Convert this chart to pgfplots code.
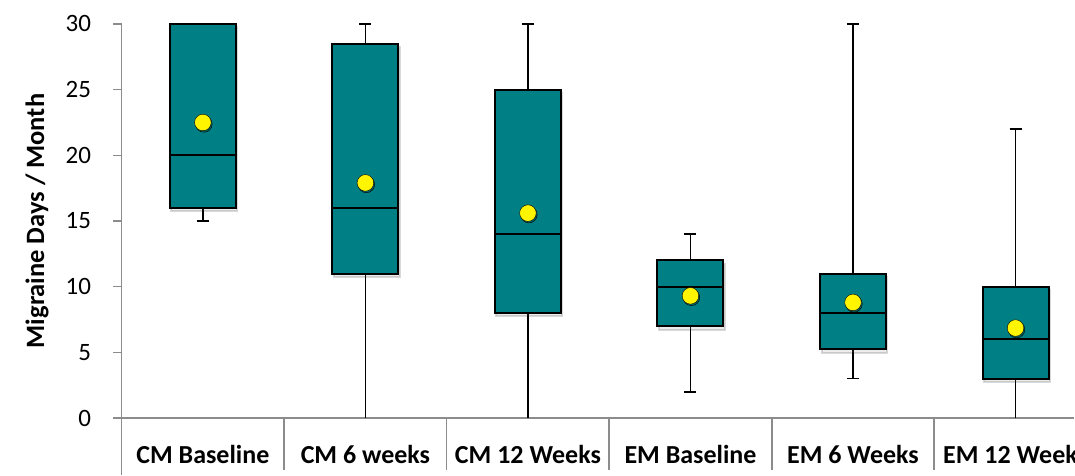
\documentclass[border=0pt]{standalone}
\usepackage{fontspec}
\setmainfont{Carlito}
\usepackage{pgfplots}
\pgfplotsset{compat=1.18}
\usepgfplotslibrary{statistics}
\usetikzlibrary{shadows}

\definecolor{boxteal}{RGB}{0,128,132}
\definecolor{axisgray}{RGB}{140,140,140}
\definecolor{meanyellow}{RGB}{255,245,0}

\pgfplotsset{
  mybox/.style={
    draw=black, fill=boxteal, line width=2pt,
    boxplot/every box/.style={drop shadow={shadow xshift=1.5pt, shadow yshift=-3.5pt, opacity=0.15}},
    boxplot/every whisker/.style={line width=1.8pt},
    boxplot/every median/.style={line width=2pt},
  },
}

\begin{document}
\begin{tikzpicture}
\begin{axis}[
  anchor=south west, at={(0pt,0pt)},
  scale only axis,
  width=953.3pt, height=394.3pt,
  xmin=-0.5, xmax=5.361, ymin=0, ymax=30,
  boxplot/draw direction=y,
  clip=false,
  axis x line*=bottom, axis y line*=left,
  axis line style={axisgray, line width=1.6pt},
  tick align=outside,
  major tick length=8.4pt,
  ytick={0,5,...,30},
  ytick style={axisgray, line width=1.4pt},
  yticklabel style={anchor=east, inner sep=0pt, xshift=-22pt, font=\fontsize{25}{30}\selectfont},
  /pgf/number format/assume math mode=true,
  xtick={0,1,2,3,4,5},
  xticklabels={CM Baseline, CM 6 weeks, CM 12 Weeks, EM Baseline, EM 6 Weeks, EM 12 Weeks},
  xtick style={draw=none},
  xticklabel style={overlay, anchor=base, yshift=-37pt, font=\bfseries\fontsize{26}{30}\selectfont},
  ylabel={Migraine Days / Month},
  every axis y label/.style={at={(axis description cs:0,0.5)}, xshift=-84.7pt, rotate=90, anchor=center,
    font=\bfseries\fontsize{26.5}{30}\selectfont},
]

% category separators below the axis
\addplot[axisgray, line width=1.6pt] coordinates {(-0.5,0) (-0.5,-4.32)};
\addplot[axisgray, line width=1.6pt] coordinates {(0.5,0) (0.5,-3.97)};
\addplot[axisgray, line width=1.6pt] coordinates {(1.5,0) (1.5,-3.97)};
\addplot[axisgray, line width=1.6pt] coordinates {(2.5,0) (2.5,-3.97)};
\addplot[axisgray, line width=1.6pt] coordinates {(3.5,0) (3.5,-3.97)};
\addplot[axisgray, line width=1.6pt] coordinates {(4.5,0) (4.5,-3.97)};

% lower whiskers that reach zero (no end cap)
\addplot[black, line width=1.8pt] coordinates {(1,0) (1,11)};
\addplot[black, line width=1.8pt] coordinates {(2,0) (2,8)};
\addplot[black, line width=1.8pt] coordinates {(5,0) (5,3)};

% boxes: whiskers, quartiles and medians
\addplot[mybox, boxplot prepared={draw position=0, box extend=0.406, whisker extend=0.074,
  lower whisker=15, lower quartile=16, median=20, upper quartile=30, upper whisker=30}] coordinates {};
\addplot[mybox, boxplot prepared={draw position=1, box extend=0.406, whisker extend=0.074,
  lower whisker=11, lower quartile=11, median=16, upper quartile=28.5, upper whisker=30}] coordinates {};
\addplot[mybox, boxplot prepared={draw position=2, box extend=0.406, whisker extend=0.074,
  lower whisker=8, lower quartile=8, median=14, upper quartile=25, upper whisker=30}] coordinates {};
\addplot[mybox, boxplot prepared={draw position=3, box extend=0.406, whisker extend=0.074,
  lower whisker=2, lower quartile=7, median=10, upper quartile=12, upper whisker=14}] coordinates {};
\addplot[mybox, boxplot prepared={draw position=4, box extend=0.406, whisker extend=0.074,
  lower whisker=3, lower quartile=5.25, median=8, upper quartile=11, upper whisker=30}] coordinates {};
\addplot[mybox, boxplot prepared={draw position=5, box extend=0.406, whisker extend=0.074,
  lower whisker=3, lower quartile=3, median=6, upper quartile=10, upper whisker=22}] coordinates {};

% means, with a faint shadow
\addplot[only marks, mark=*, mark size=8.3pt,
  mark options={draw=none, fill=black, fill opacity=0.22, xshift=1pt, yshift=-1.5pt}]
  coordinates {(0,22.5) (1,17.9) (2,15.6) (3,9.3) (4,8.8) (5,6.85)};
\addplot[only marks, mark=*, mark size=8.3pt, mark options={draw=none, fill=meanyellow}]
  coordinates {(0,22.5) (1,17.9) (2,15.6) (3,9.3) (4,8.8) (5,6.85)};
\end{axis}
% page extent
\path (-121.7pt,-56.7pt) (953.3pt,418.3pt);
\end{tikzpicture}
\end{document}
